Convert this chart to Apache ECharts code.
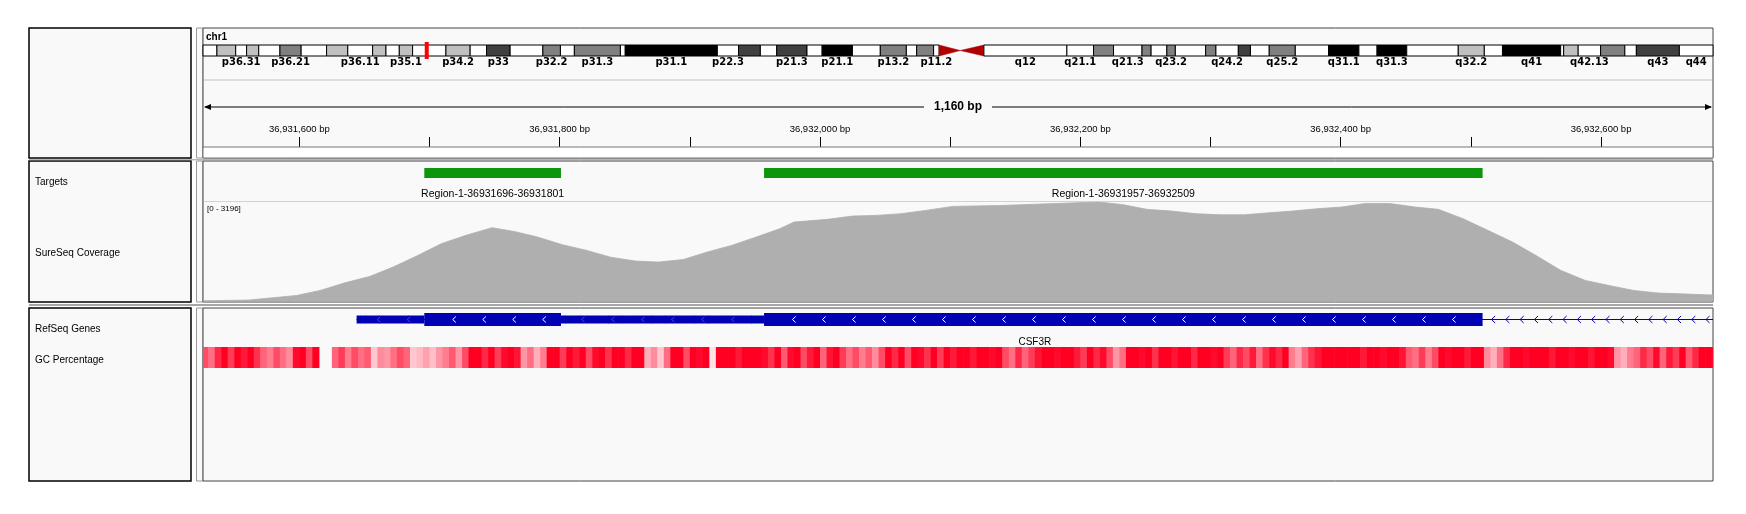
<!DOCTYPE html>
<html><head><meta charset="utf-8">
<script src="https://cdn.jsdelivr.net/npm/echarts@6/dist/echarts.min.js"></script>
<style>html,body{margin:0;padding:0;background:#fff;}#c{width:1746px;height:514px;}</style>
</head><body><div id="c"></div>
<script>
// ================= DATA =================
const chromName = 'chr1';
const chromLength = 249250621;
const bandNames = ['p36.33','p36.32','p36.31','p36.23','p36.22','p36.21','p36.13','p36.12','p36.11','p35.3','p35.2','p35.1','p34.3','p34.2','p34.1','p33','p32.3','p32.2','p32.1','p31.3','p31.2','p31.1','p22.3','p22.2','p22.1','p21.3','p21.2','p21.1','p13.3','p13.2','p13.1','p12','p11.2','p11.1','q11','q12','q21.1','q21.2','q21.3','q22','q23.1','q23.2','q23.3','q24.1','q24.2','q24.3','q25.1','q25.2','q25.3','q31.1','q31.2','q31.3','q32.1','q32.2','q32.3','q41','q42.11','q42.12','q42.13','q42.2','q42.3','q43','q44'];
const bandEnds = [2300000,5400000,7200000,9200000,12700000,16200000,20400000,23900000,28000000,30200000,32400000,34600000,40100000,44100000,46800000,50700000,56100000,59000000,61300000,68900000,69700000,84900000,88400000,92000000,94700000,99700000,102200000,107200000,111800000,116100000,117800000,120600000,121500000,125000000,128900000,142600000,147000000,150300000,155000000,156500000,159100000,160500000,165500000,167200000,170900000,172900000,176000000,180300000,185800000,190800000,193800000,198700000,207200000,211500000,214500000,224100000,224600000,227000000,230700000,234700000,236600000,243700000,249250621];
const bandStains = ['gneg','gpos25','gneg','gpos25','gneg','gpos50','gneg','gpos25','gneg','gpos25','gneg','gpos25','gneg','gpos25','gneg','gpos75','gneg','gpos50','gneg','gpos50','gneg','gpos100','gneg','gpos75','gneg','gpos75','gneg','gpos100','gneg','gpos50','gneg','gpos50','gneg','acen','acen','gvar','gneg','gpos50','gneg','gpos50','gneg','gpos50','gneg','gpos50','gneg','gpos75','gneg','gpos50','gneg','gpos100','gneg','gpos100','gneg','gpos25','gneg','gpos100','gneg','gpos25','gneg','gpos50','gneg','gpos75','gneg'];
const labeledBands = ['p36.31','p36.21','p36.11','p35.1','p34.2','p33','p32.2','p31.3','p31.1','p22.3','p21.3','p21.1','p13.2','p11.2','q12','q21.1','q21.3','q23.2','q24.2','q25.2','q31.1','q31.3','q32.2','q41','q42.13','q43','q44'];

const viewStart = 36931526;
const viewEnd = 36932686;
const rulerTicks = [36931600,36931700,36931800,36931900,36932000,36932100,36932200,36932300,36932400,36932500,36932600];
const rulerLabels = [36931600,36931800,36932000,36932200,36932400,36932600];

const targetNames = ['Region-1-36931696-36931801','Region-1-36931957-36932509'];
const targetStarts = [36931696, 36931957];
const targetEnds = [36931801, 36932509];

const coverageMax = 3196;
const covPos = [36931526,36931561,36931598,36931616,36931635,36931654,36931672,36931691,36931709,36931728,36931748,36931765,36931783,36931802,36931821,36931839,36931858,36931876,36931895,36931913,36931932,36931951,36931969,36931980,36932006,36932025,36932043,36932062,36932081,36932102,36932139,36932176,36932214,36932233,36932251,36932270,36932289,36932307,36932326,36932345,36932363,36932382,36932401,36932419,36932438,36932457,36932475,36932494,36932513,36932532,36932550,36932569,36932588,36932606,36932625,36932644,36932662,36932681,36932686];
const covVal = [25,45,195,355,600,805,1105,1480,1855,2125,2370,2250,2070,1825,1640,1425,1300,1265,1350,1585,1800,2070,2335,2550,2640,2745,2765,2820,2925,3055,3085,3140,3196,3110,2960,2905,2820,2785,2785,2850,2905,2980,3035,3150,3145,3035,2960,2660,2285,1910,1480,1000,675,515,355,270,245,215,210];

const geneName = 'CSF3R';
const geneStart = 36931644;
const geneEnd = 36948879;
const utrStarts = [36931644, 36931801];
const utrEnds = [36931696, 36931957];
const exonStarts = [36931696, 36931957];
const exonEnds = [36931801, 36932509];

const gcStart = 36931525;
const gcBin = 5;
const gcVals = [55,48,62,70,58,72,65,70,60,50,45,55,48,42,68,72,55,70,
  null,null,
  50,58,45,55,48,52, 30, 42,40,48, 55,50, 30,33,38,32,40, 45,52,40,55,
  72,70,62,70,58,68,72,66, 40,48,35,45,
  70,72,58,70,65,72,55,68,70,60,72,70,62,70,72,
  35,42,30,48, 72,70,55,70,68,72, 25,
  70,72,72,65,72,70,72,68,
  60,70,52,68,72,55,65,70,50,66,70,58,
  48,55,45,52,42,55,
  70,62,72,55,70,68,60,72,58,70,65,
  70,72,65,70,72,68,70,
  55,48,62,50,58,66,
  72,70,68,72,70,
  65,58,70,62,68,55,
  40,48,
  70,72,68,70,60,72,70,66,72,70,62,70,72,68,70,
  58,50,62,55,65,48,60,
  68,62,70,45,38,50,
  60,66,70,72,
  72,70,70,72,65,70,72,68,70,72,66,
  52,48,58,45,55,
  70,68,72,70,65,70,72,
  42,35,48,
  62,70,72,68,70,72,70,65,72,70,68,72,70,66,72,70,68,
  40,35,45,50,
  62,55,68,50,65,58,70,52,62,
  72,70,68];

const trackNames = ['Targets','SureSeq Coverage','RefSeq Genes','GC Percentage'];

// ================= LAYOUT / STYLE =================
const L = 203, R = 1713, W = R - L;
const FONT = '"Liberation Sans", Arial, sans-serif';
const stainColor = {gneg:'#ffffff', gvar:'#ffffff', gpos25:'#c0c0c0', gpos50:'#808080', gpos75:'#404040', gpos100:'#000000', acen:'#b00000'};
const geneColor = '#0000b4';

function clipSpan(x1, x2, cs) {
  const a = Math.max(x1, cs.x), b = Math.min(x2, cs.x + cs.width);
  return b > a ? [a, b] : null;
}
function gcColor(v) {
  const t = Math.max(0, Math.min(1, (v - 25) / 45));
  const g = Math.round(225 * (1 - t)), b = Math.round(230 - 195 * t);
  return 'rgb(255,' + g + ',' + b + ')';
}

// ---- renderers ----
function renderBand(params, api) {
  const i = api.value(2);
  const cs = params.coordSys;
  const x1 = api.coord([api.value(0), 0])[0], x2 = api.coord([api.value(1), 0])[0];
  const y = cs.y, h = cs.height;
  const stain = bandStains[i], name = bandNames[i];
  const children = [];
  if (stain === 'acen') {
    const pts = name.charAt(0) === 'p' ? [[x1, y], [x2, y + h / 2], [x1, y + h]] : [[x2, y], [x1, y + h / 2], [x2, y + h]];
    children.push({type: 'polygon', shape: {points: pts}, style: {fill: stainColor.acen, stroke: stainColor.acen, lineWidth: 0.5}});
  } else {
    children.push({type: 'rect', shape: {x: x1, y: y, width: x2 - x1, height: h}, style: {fill: stainColor[stain], stroke: '#000', lineWidth: 1}});
  }
  if (labeledBands.indexOf(name) >= 0) {
    children.push({type: 'text', style: {text: name, x: (x1 + x2) / 2, y: y + h + 6, align: 'center', verticalAlign: 'middle', font: 'bold 10px "DejaVu Sans", sans-serif', fill: '#000'}});
  }
  return {type: 'group', children: children};
}
function renderMarker(params, api) {
  const cs = params.coordSys;
  const x1 = api.coord([api.value(0), 0])[0], x2 = api.coord([api.value(1), 0])[0];
  const w = Math.max(4, x2 - x1), cx = (x1 + x2) / 2;
  return {type: 'rect', shape: {x: cx - w / 2, y: cs.y - 3, width: w, height: cs.height + 6}, style: {fill: '#ff0000'}};
}
function renderTarget(params, api) {
  const cs = params.coordSys;
  const i = api.value(2);
  const sp = clipSpan(api.coord([api.value(0), 0])[0], api.coord([api.value(1), 0])[0], cs);
  if (!sp) return null;
  return {type: 'group', children: [
    {type: 'rect', shape: {x: sp[0], y: cs.y + 7, width: sp[1] - sp[0], height: 10}, style: {fill: '#0c960c'}},
    {type: 'text', style: {text: targetNames[i], x: (sp[0] + sp[1]) / 2, y: cs.y + 33, align: 'center', verticalAlign: 'middle', font: '10.5px ' + FONT, fill: '#000'}}
  ]};
}
function chev(x, y, hw, hh, color, lw) {
  return {type: 'polyline', shape: {points: [[x + hw, y - hh], [x - hw, y], [x + hw, y + hh]]}, style: {stroke: color, lineWidth: lw, fill: null}};
}
function renderGene(params, api) {
  const cs = params.coordSys;
  const cy = cs.y + 11.5;
  const children = [];
  const px = v => api.coord([v, 0])[0];
  const line = clipSpan(px(geneStart), px(geneEnd), cs);
  if (line) {
    children.push({type: 'line', shape: {x1: line[0], y1: cy, x2: line[1], y2: cy}, style: {stroke: geneColor, lineWidth: 1}});
    for (let x = line[0] + 7; x < line[1] - 2; x += 14.3) children.push(chev(x, cy, 1.8, 3.5, geneColor, 1));
  }
  for (let k = 0; k < utrStarts.length; k++) {
    const sp = clipSpan(px(utrStarts[k]), px(utrEnds[k]), cs);
    if (!sp) continue;
    children.push({type: 'rect', shape: {x: sp[0], y: cy - 4, width: sp[1] - sp[0], height: 8}, style: {fill: geneColor}});
    for (let x = sp[0] + 22; x < sp[1] - 8; x += 30) children.push(chev(x, cy, 1.5, 2.5, '#3a46e6', 1));
  }
  for (let k = 0; k < exonStarts.length; k++) {
    const sp = clipSpan(px(exonStarts[k]), px(exonEnds[k]), cs);
    if (!sp) continue;
    children.push({type: 'rect', shape: {x: sp[0], y: cy - 6.5, width: sp[1] - sp[0], height: 13}, style: {fill: geneColor}});
    for (let x = sp[0] + 30; x < sp[1] - 10; x += 30) children.push(chev(x, cy, 1.6, 3, '#ffffff', 1));
  }
  if (line) children.push({type: 'text', style: {text: geneName, x: (line[0] + line[1]) / 2, y: cs.y + 34, align: 'center', verticalAlign: 'middle', font: '10px ' + FONT, fill: '#000'}});
  return {type: 'group', children: children};
}
function renderGC(params, api) {
  const cs = params.coordSys;
  const v = api.value(2);
  if (v === null || v === undefined || isNaN(v)) return null;
  const sp = clipSpan(api.coord([api.value(0), 0])[0], api.coord([api.value(1), 0])[0] + 0.6, cs);
  if (!sp) return null;
  return {type: 'rect', shape: {x: sp[0], y: cs.y, width: sp[1] - sp[0], height: cs.height}, style: {fill: gcColor(v)}};
}

// ---- series data built from the arrays ----
const bandData = bandNames.map((n, i) => [i === 0 ? 0 : bandEnds[i - 1], bandEnds[i], i]);
const targetData = targetStarts.map((s, i) => [s, targetEnds[i], i]);
const covData = covPos.map((p, i) => [p, covVal[i]]);
const gcData = gcVals.map((v, i) => [gcStart + i * gcBin, gcStart + (i + 1) * gcBin, v === null ? NaN : v]);

// ---- axes ----
const grids = [
  {left: L, width: W, top: 45, height: 11},
  {left: L, width: W, top: 100, height: 47},
  {left: L, width: W, top: 161, height: 40},
  {left: L, width: W, top: 202, height: 99.5},
  {left: L, width: W, top: 308, height: 38},
  {left: L, width: W, top: 347, height: 21}
];
const hiddenX = (g, mn, mx) => ({gridIndex: g, type: 'value', min: mn, max: mx, show: false, splitLine: {show: false}});
const hiddenY = (g, mn, mx) => ({gridIndex: g, type: 'value', min: mn, max: mx, show: false, splitLine: {show: false}});
const xAxes = [
  hiddenX(0, 0, chromLength),
  {gridIndex: 1, type: 'value', min: viewStart, max: viewEnd, position: 'bottom',
    axisLine: {show: true, lineStyle: {color: '#555', width: 1}},
    axisTick: {show: true, inside: true, length: 10, customValues: rulerTicks, lineStyle: {color: '#000', width: 1}},
    axisLabel: {show: true, inside: true, margin: 13, customValues: rulerLabels, color: '#000', fontSize: 9.5, fontFamily: FONT,
      formatter: v => Number(v).toLocaleString('en-US') + ' bp'},
    splitLine: {show: false}},
  hiddenX(2, viewStart, viewEnd),
  hiddenX(3, viewStart, viewEnd),
  hiddenX(4, viewStart, viewEnd),
  hiddenX(5, viewStart, viewEnd)
];
const yAxes = [hiddenY(0, 0, 1), hiddenY(1, 0, 1), hiddenY(2, 0, 1), hiddenY(3, 0, coverageMax), hiddenY(4, 0, 1), hiddenY(5, 0, 1)];

// ---- frame graphics ----
const panels = [[28, 130], [161, 141], [308, 173]];
const graphics = [];
panels.forEach(p => {
  graphics.push({type: 'rect', shape: {x: 29, y: p[0], width: 162, height: p[1]}, style: {fill: '#f9f9f9', stroke: '#000', lineWidth: 1.5}, z: 0});
  graphics.push({type: 'rect', shape: {x: 196.5, y: p[0], width: 6.5, height: p[1]}, style: {fill: '#f9f9f9', stroke: '#999', lineWidth: 1}, z: 0});
  graphics.push({type: 'rect', shape: {x: L, y: p[0], width: W, height: p[1]}, style: {fill: '#f9f9f9', stroke: '#444', lineWidth: 1}, z: 0});
});
graphics.push({type: 'rect', shape: {x: L, y: 147, width: W, height: 11}, style: {fill: '#ffffff', stroke: '#777', lineWidth: 1}, z: 1});
graphics.push({type: 'line', shape: {x1: 29, y1: 305, x2: R, y2: 305}, style: {stroke: '#8a8a8a', lineWidth: 1.5}, z: 1});
graphics.push({type: 'line', shape: {x1: 29, y1: 159.8, x2: R, y2: 159.8}, style: {stroke: '#9a9a9a', lineWidth: 1}, z: 1});
graphics.push({type: 'line', shape: {x1: L + 1, y1: 80, x2: R - 1, y2: 80}, style: {stroke: '#dedede', lineWidth: 2}, z: 1});
graphics.push({type: 'line', shape: {x1: L + 1, y1: 201.5, x2: R - 1, y2: 201.5}, style: {stroke: '#d2d2d2', lineWidth: 1}, z: 1});
const spanText = (viewEnd - viewStart).toLocaleString('en-US') + ' bp';
const mid = (L + R) / 2, ay = 107;
graphics.push({type: 'line', shape: {x1: L + 2, y1: ay, x2: mid - 34, y2: ay}, style: {stroke: '#000', lineWidth: 1}, z: 2});
graphics.push({type: 'line', shape: {x1: mid + 34, y1: ay, x2: R - 2, y2: ay}, style: {stroke: '#000', lineWidth: 1}, z: 2});
graphics.push({type: 'polygon', shape: {points: [[L + 1, ay], [L + 8, ay - 3], [L + 8, ay + 3]]}, style: {fill: '#000'}, z: 2});
graphics.push({type: 'polygon', shape: {points: [[R - 1, ay], [R - 8, ay - 3], [R - 8, ay + 3]]}, style: {fill: '#000'}, z: 2});
graphics.push({type: 'text', style: {text: spanText, x: mid, y: ay, align: 'center', verticalAlign: 'middle', font: 'bold 12px ' + FONT, fill: '#000'}, z: 2});
graphics.push({type: 'text', style: {text: chromName, x: 206, y: 37, align: 'left', verticalAlign: 'middle', font: 'bold 10px ' + FONT, fill: '#000'}, z: 2});
graphics.push({type: 'text', style: {text: '[0 - ' + coverageMax + ']', x: 207, y: 209, align: 'left', verticalAlign: 'middle', font: '8px ' + FONT, fill: '#000'}, z: 5});
const nameY = [182, 253, 329, 360];
trackNames.forEach((t, i) => graphics.push({type: 'text', style: {text: t, x: 35, y: nameY[i], align: 'left', verticalAlign: 'middle', font: '10px ' + FONT, fill: '#000'}, z: 2}));

const chart = echarts.init(document.getElementById('c'), null, {renderer: 'canvas', width: 1746, height: 514});
chart.setOption({
  animation: false,
  backgroundColor: '#ffffff',
  grid: grids,
  xAxis: xAxes,
  yAxis: yAxes,
  graphic: {elements: graphics},
  series: [
    {type: 'custom', xAxisIndex: 0, yAxisIndex: 0, renderItem: renderBand, data: bandData, z: 3},
    {type: 'custom', xAxisIndex: 0, yAxisIndex: 0, renderItem: renderMarker, data: [[viewStart, viewEnd]], z: 4},
    {type: 'custom', xAxisIndex: 2, yAxisIndex: 2, renderItem: renderTarget, data: targetData, z: 3},
    {type: 'line', xAxisIndex: 3, yAxisIndex: 3, data: covData, symbol: 'none', showSymbol: false, clip: true,
      lineStyle: {width: 0.8, color: '#afafaf'}, areaStyle: {color: '#afafaf', opacity: 1}, z: 3},
    {type: 'custom', xAxisIndex: 4, yAxisIndex: 4, renderItem: renderGene, data: [[geneStart, geneEnd]], z: 3},
    {type: 'custom', xAxisIndex: 5, yAxisIndex: 5, renderItem: renderGC, data: gcData, z: 3}
  ]
});
</script>
</body></html>
